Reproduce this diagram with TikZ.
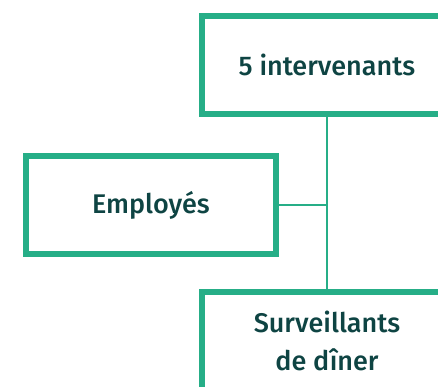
\documentclass[tikz,border=0pt]{standalone}
\usepackage{fontspec}
\setmainfont{Fira Sans}[UprightFont={* Medium}]
\usepackage{tikz}
\definecolor{boxgreen}{HTML}{26AE87}
\definecolor{textteal}{HTML}{0E4443}

\tikzset{
	orgbox/.style={draw=boxgreen, line width=5.5pt, fill=white, minimum width=250pt, minimum height=98pt, align=center, text=textteal, font=\fontsize{27}{38}\selectfont},
	orgline/.style={draw=boxgreen, line width=2pt},
}

\begin{document}
\begin{tikzpicture}[x=1pt, y=-1pt]
		\useasboundingbox (0, 0) rectangle (438, 386);

		\node[orgbox] at (327, 65) (top) {5 intervenants};
		\node[orgbox] at (151, 205) (emp) {Employés};
		\node[orgbox] at (327, 341) (surv) {Surveillants\\de dîner};

		\coordinate (junc) at (top.south |- emp.east);

		\draw[orgline] (top.south) -- (surv.north);
		\draw[orgline] (emp.east) -- (junc);
	\end{tikzpicture}
\end{document}
